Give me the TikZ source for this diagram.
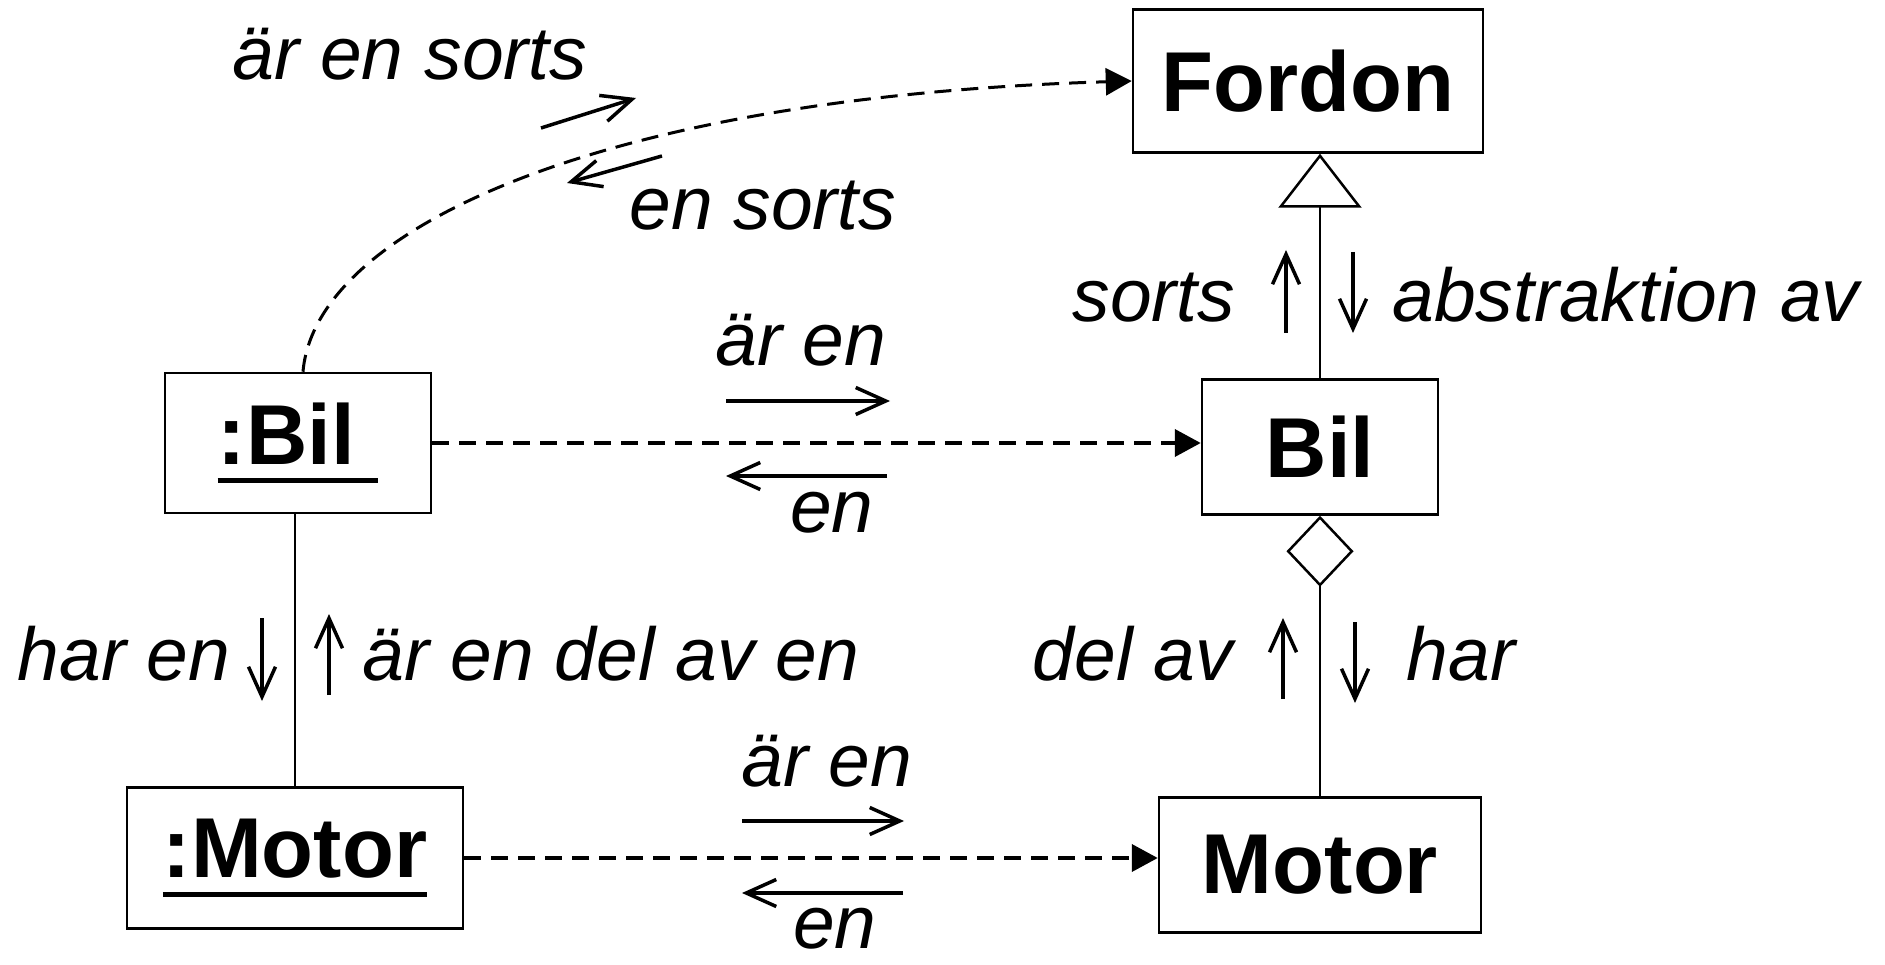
\documentclass[tikz,border=0pt]{standalone}
\usepackage{fontspec}
\setmainfont{Liberation Sans}
\usetikzlibrary{arrows.meta,positioning,calc}

% underlined object name
\newcommand{\objname}[1]{\vtop{\hbox{#1}\kern13pt\hrule height 5pt}}

\begin{document}
\begin{tikzpicture}[x=1pt, y=-1pt, line width=2.5pt, >={Straight Barb[length=30pt,width=27pt]}]
\tikzstyle{class}=[draw=black, line width=2.5pt, inner sep=0pt, font=\fontsize{85}{100}\selectfont\bfseries]
\tikzstyle{lbl}=[anchor=base, inner sep=0pt, font=\fontsize{75}{90}\selectfont\itshape]
\tikzstyle{hint}=[->, line width=3.5pt]
\tikzstyle{dep}=[-{Triangle[length=26pt,width=27pt]}, line width=4pt, dash pattern=on 17pt off 10pt]
\useasboundingbox (0,0) rectangle (1885,965);

\node[class, minimum width=350pt, minimum height=143pt] (fordon)   at (1308,81)  {Fordon};
\node[class, minimum width=236pt, minimum height=135pt] (bil)      at (1320,447) {Bil};
\node[class, minimum width=322pt, minimum height=135pt] (motor)    at (1320,865) {Motor};
\node[class, minimum width=266pt, minimum height=140pt] (objbil)   at (298,443)  {\objname{:Bil\ }};
\node[class, minimum width=336pt, minimum height=141pt] (objmotor) at (295,858)  {\objname{:Motor}};

\path
(bil.north) edge[-{Triangle[open,length=54pt,width=83pt]}] (bil.north |- fordon.south)
(bil.south) edge[{Diamond[open,length=71pt,width=67pt]}-]  (motor.north)
(objmotor.north |- objbil.south) edge (objmotor.north)
(objbil.east)   edge[dep] (objbil.east -| bil.west)
(objmotor.east) edge[dep] (objmotor.east -| motor.west);
\draw[dep, line width=3pt] ([xshift=5pt]objbil.north) .. controls +(12,-142) and +(-533,16) .. (fordon.west);

% labels
\node[lbl] (l1)  at (410,80)   {är en sorts};
\node[lbl] (l2)  at (763,230)  {en sorts};
\node[lbl] (l3)  at (801,366)  {är en};
\node[lbl] (l4)  at (832,532)  {en};
\node[lbl] (l5)  at (827,786)  {är en};
\node[lbl] (l6)  at (835,948)  {en};
\node[lbl] (l7)  at (124,680)  {har en};
\node[lbl] (l8)  at (611,680)  {är en del av en};
\node[lbl] (l9)  at (1154,322) {sorts};
\node[lbl] (l10) at (1626,322) {abstraktion av};
\node[lbl] (l11) at (1133,680) {del av};
\node[lbl] (l12) at (1461,680) {har};

\draw[hint] (541,128) -- (636,98);
\draw[hint] (662,156) -- (567,183);
\draw[hint] (726,401) -- (890,401);
\draw[hint] (887,476) -- (726,476);
\draw[hint] (742,821) -- (904,821);
\draw[hint] (903,893) -- (742,893);
\draw[hint] (262,618) -- (262,701);
\draw[hint] (329,695) -- (329,614);
\draw[hint] (1286,333) -- (1286,250);
\draw[hint] (1353,252) -- (1353,333);
\draw[hint] (1283,699) -- (1283,618);
\draw[hint] (1355,622) -- (1355,703);
\end{tikzpicture}
\end{document}
